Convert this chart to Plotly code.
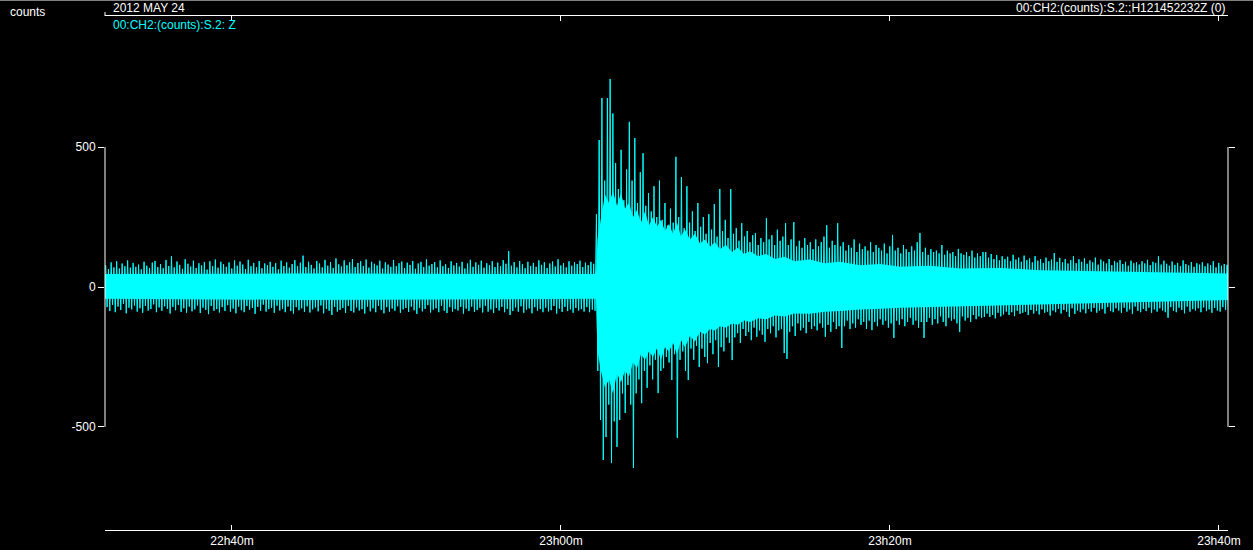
import plotly.graph_objects as go

# ---------------- data ----------------
# time axis in minutes after 22h00m
x_start_min = 32.28
x_end_min = 100.55
tick_vals = [40, 60, 80, 100]
tick_text = ["22h40m", "23h00m", "23h20m", "23h40m"]
y_tick_vals = [-500, 0, 500]
y_tick_text = ["-500", "0", "500"]

# peak (max / min) counts in consecutive 10 s windows, starting at x_start_min
bin_seconds = 10.0
peak_hi = [
    # pre-event noise (bins 0-178)
    78, 64, 88, 70, 92, 66, 84, 74, 95, 69,
    86, 72, 80, 63, 90, 76, 68, 87, 93, 71,
    82, 67, 96, 75, 110, 70, 91, 79, 65, 99,
    83, 73, 94, 68, 85, 77, 89, 62, 92, 74,
    98, 69, 90, 81, 72, 88, 66, 95, 76, 91,
    80, 64, 97, 74, 86, 70, 93, 67, 84, 78,
    90, 72, 85, 63, 94, 75, 88, 69, 82, 96,
    74, 87, 112, 71, 90, 79, 66, 93, 84, 70,
    97, 76, 89, 68, 102, 81, 73, 95, 78, 88,
    100, 71, 86, 92, 75, 98, 69, 90, 83, 77,
    94, 66, 88, 80, 72, 96, 74, 85, 91, 68,
    87, 79, 93, 65, 84, 90, 71, 99, 76, 82,
    89, 70, 95, 74, 81, 68, 92, 77, 86, 73,
    90, 66, 84, 97, 72, 88, 79, 94, 69, 85,
    78, 92, 71, 87, 74, 96, 83, 128, 76, 89,
    70, 93, 81, 67, 90, 75, 86, 72, 95, 79,
    88, 68, 84, 91, 73, 99, 77, 85, 70, 92,
    76, 89, 82, 94, 71, 87, 78, 90, 83,
    # event and coda (bins 179-409)
    260, 525, 675, 380, 675, 743, 620, 443, 350, 490,
    310, 420, 590, 380, 532, 300, 410, 478, 290, 335,
    270, 360, 250, 380, 240, 300, 220, 280, 230, 465,
    250, 393, 210, 360, 230, 270, 200, 300, 215, 250,
    190, 260, 205, 296, 180, 350, 200, 240, 175, 350,
    190, 210, 165, 228, 180, 200, 160, 185, 193, 150,
    175, 160, 246, 170, 185, 150, 205, 165, 180, 228,
    150, 170, 232, 145, 165, 140, 175, 150, 160, 135,
    170, 145, 160, 180, 221, 140, 165, 150, 228, 145,
    160, 130, 150, 140, 170, 125, 155, 135, 145, 130,
    160, 125, 150, 140, 130, 155, 120, 145, 186, 130,
    140, 120, 150, 135, 125, 145, 130, 160, 193, 125,
    140, 115, 135, 125, 130, 120, 150, 115, 130, 120,
    125, 110, 136, 120, 115, 125, 110, 130, 105, 120,
    110, 125, 125, 105, 118, 100, 114, 95, 110, 100,
    108, 92, 115, 98, 105, 90, 112, 96, 102, 88,
    110, 94, 100, 86, 105, 92, 98, 121, 90, 104,
    88, 100, 84, 96, 110, 85, 99, 90, 102, 83,
    95, 88, 105, 80, 98, 91, 84, 100, 78, 93,
    87, 96, 82, 90, 76, 94, 85, 88, 80, 92,
    84, 97, 78, 90, 86, 110, 80, 94, 83, 76,
    91, 79, 86, 74, 95, 82, 77, 89, 72, 85,
    80, 88, 74, 84, 78, 92, 70, 86, 76, 82,
    79,
]
peak_lo = [
    # pre-event noise (bins 0-178)
    -72, -86, -64, -90, -70, -82, -60, -94, -74, -80,
    -66, -88, -76, -92, -68, -84, -79, -62, -90, -73,
    -85, -69, -78, -95, -71, -83, -64, -89, -76, -92,
    -70, -87, -80, -66, -93, -74, -82, -97, -68, -85,
    -79, -91, -72, -86, -65, -88, -77, -94, -70, -83,
    -90, -68, -81, -75, -96, -71, -85, -63, -88, -79,
    -74, -92, -67, -84, -78, -90, -70, -86, -95, -72,
    -83, -76, -89, -69, -91, -80, -73, -87, -66, -94,
    -78, -85, -100, -71, -88, -82, -75, -93, -68, -86,
    -91, -73, -84, -79, -95, -70, -87, -76, -90, -67,
    -82, -94, -72, -88, -77, -85, -69, -92, -80, -75,
    -89, -70, -83, -96, -74, -87, -78, -65, -91, -81,
    -76, -90, -68, -85, -93, -72, -88, -79, -84, -71,
    -95, -77, -86, -70, -89, -82, -74, -91, -67, -88,
    -80, -93, -75, -84, -71, -90, -78, -100, -86, -73,
    -88, -69, -92, -81, -76, -94, -72, -85, -79, -90,
    -74, -87, -83, -68, -95, -77, -89, -71, -86, -80,
    -92, -75, -84, -79, -88, -72, -90, -81, -85,
    # event and coda (bins 179-409)
    -300, -475, -618, -536, -420, -629, -480, -571, -475, -380,
    -450, -350, -420, -646, -380, -330, -415, -300, -360, -280,
    -330, -260, -379, -300, -290, -250, -270, -332, -240, -539,
    -260, -230, -300, -332, -220, -260, -210, -286, -220, -250,
    -272, -200, -240, -190, -286, -215, -230, -180, -200, -261,
    -180, -165, -200, -150, -175, -160, -190, -145, -178, -155,
    -170, -196, -150, -165, -140, -180, -155, -150, -236, -257,
    -160, -140, -175, -130, -155, -145, -165, -125, -150, -140,
    -155, -130, -145, -178, -135, -160, -125, -150, -140, -218,
    -140, -120, -150, -130, -145, -115, -135, -125, -150, -120,
    -154, -125, -140, -115, -135, -120, -145, -130, -182, -120,
    -135, -115, -140, -125, -110, -135, -120, -145, -125, -182,
    -125, -110, -135, -115, -130, -105, -125, -140, -110, -120,
    -115, -130, -161, -105, -120, -110, -125, -100, -115, -105,
    -110, -107, -95, -107, -100, -112, -92, -105, -98, -88,
    -100, -90, -104, -85, -96, -92, -88, -100, -82, -95,
    -86, -98, -80, -92, -88, -102, -84, -90, -78, -95,
    -82, -88, -107, -76, -96, -84, -90, -80, -94, -78,
    -88, -75, -92, -84, -79, -95, -72, -86, -90, -76,
    -84, -92, -74, -88, -80, -96, -70, -85, -90, -78,
    -86, -74, -92, -80, -88, -76, -84, -90, -110, -72,
    -85, -90, -74, -82, -94, -70, -88, -79, -84, -76,
    -90, -73, -86, -80, -92, -75, -84, -88, -72, -82,
    -80,
]

# dense (solid) core of the trace, minutes after 22h00m
band_t = [32.28, 44.13, 56.29, 62.128, 62.219, 62.432, 62.675, 62.918, 63.161, 63.404,
          63.647, 63.891, 64.134, 64.377, 64.620, 64.863, 65.106, 65.350, 65.593, 65.836,
          66.079, 66.322, 66.565, 66.809, 67.052, 67.295, 67.538, 67.842, 68.146, 68.450,
          68.754, 69.058, 69.362, 69.666, 70.030, 70.395, 70.760, 71.125, 71.489, 71.976,
          72.462, 73.009, 73.587, 74.195, 75.106, 76.018, 76.960, 78.176, 79.392, 80.608,
          82.432, 84.255, 86.687, 89.119, 92.766, 96.413, 100.55]
band_hi = [46, 48, 46, 46, 170, 240, 330, 300, 340, 290,
           335, 280, 300, 250, 275, 230, 270, 220, 250, 215,
           240, 200, 225, 190, 230, 180, 205, 170, 190, 155,
           170, 145, 160, 135, 150, 125, 140, 118, 128, 110,
           118, 100, 108, 92, 98, 85, 90, 78, 82, 72,
           76, 66, 68, 60, 56, 52, 48]
band_lo = [-42, -46, -44, -42, -230, -300, -360, -330, -380, -310,
           -340, -300, -320, -270, -290, -240, -260, -230, -250, -220,
           -260, -215, -230, -200, -240, -190, -215, -175, -195, -160,
           -170, -150, -155, -140, -145, -130, -135, -120, -125, -112,
           -115, -102, -105, -95, -96, -88, -86, -80, -78, -74,
           -70, -68, -64, -60, -55, -52, -46]

# ---------------- figure ----------------
CYAN = "#00FFFF"
WHITE = "#FFFFFF"
FONT = "Liberation Sans, Arial, sans-serif"

W, H = 1253, 550
ML, MR, MT, MB = 105, 25, 16, 20
PW, PH = W - ML - MR, H - MT - MB

bin_minutes = bin_seconds / 60.0
zx, zy = [], []
for i, (hi, lo) in enumerate(zip(peak_hi, peak_lo)):
    t = x_start_min + i * bin_minutes
    zx += [t + 0.25 * bin_minutes, t + 0.75 * bin_minutes]
    zy += [hi, lo]

fig = go.Figure()
fig.add_trace(go.Scatter(
    x=band_t + band_t[::-1], y=band_hi + band_lo[::-1],
    fill="toself", fillcolor=CYAN, line=dict(width=0, color=CYAN),
    mode="lines", hoverinfo="skip", showlegend=False))
fig.add_trace(go.Scatter(
    x=zx, y=zy, mode="lines", line=dict(color=CYAN, width=1),
    hoverinfo="skip", showlegend=False))


def px_x(p):
    return (p - ML) / PW


def px_y(p):
    return (H - MB - p) / PH


fig.update_layout(
    width=W, height=H,
    margin=dict(l=ML, r=MR, t=MT, b=MB, autoexpand=False),
    paper_bgcolor="#000000", plot_bgcolor="#000000",
    font=dict(family=FONT, size=12, color=WHITE),
    showlegend=False,
    hovermode=False,
    xaxis=dict(
        range=[x_start_min, x_end_min], tickvals=tick_vals, ticktext=tick_text,
        ticks="inside", ticklen=5, tickcolor=WHITE, tickwidth=1,
        showline=True, linecolor=WHITE, linewidth=1, mirror="ticks",
        showgrid=False, zeroline=False, automargin=False,
        tickfont=dict(family=FONT, size=12, color=WHITE),
    ),
    yaxis=dict(
        range=[-868, 968], tickvals=y_tick_vals, ticktext=y_tick_text,
        ticks="outside", ticklen=6, tickcolor=WHITE, tickwidth=1,
        showline=False, mirror="ticks",
        showgrid=False, zeroline=False, automargin=False,
        tickfont=dict(family=FONT, size=12, color=WHITE),
    ),
    shapes=[
        dict(type="line", xref="paper", yref="y", x0=0, x1=0,
             y0=y_tick_vals[0], y1=y_tick_vals[-1], line=dict(color=WHITE, width=1)),
        dict(type="line", xref="paper", yref="y", x0=1, x1=1,
             y0=y_tick_vals[0], y1=y_tick_vals[-1], line=dict(color=WHITE, width=1)),
        dict(type="line", xref="paper", yref="paper", x0=px_x(0), x1=px_x(W),
             y0=px_y(0.5), y1=px_y(0.5), line=dict(color="#808080", width=1)),
        dict(type="line", xref="paper", yref="paper", x0=0, x1=0,
             y0=1, y1=px_y(12), line=dict(color=WHITE, width=1)),
    ],
    annotations=[
        dict(text="counts", xref="paper", yref="paper", x=px_x(8), y=px_y(12),
             xanchor="left", yanchor="middle", showarrow=False,
             font=dict(family=FONT, size=12, color=WHITE)),
        dict(text="2012 MAY 24", xref="paper", yref="paper", x=px_x(111), y=px_y(8),
             xanchor="left", yanchor="middle", showarrow=False,
             font=dict(family=FONT, size=12, color=WHITE)),
        dict(text="00:CH2:(counts):S.2: Z", xref="paper", yref="paper", x=px_x(111), y=px_y(25),
             xanchor="left", yanchor="middle", showarrow=False,
             font=dict(family=FONT, size=12, color=CYAN)),
        dict(text="00:CH2:(counts):S.2:;H121452232Z (0)", xref="paper", yref="paper",
             x=px_x(1227), y=px_y(8),
             xanchor="right", yanchor="middle", showarrow=False,
             font=dict(family=FONT, size=12, color=WHITE)),
    ],
)

fig.write_html(
    "out.html",
    config={"displayModeBar": False, "staticPlot": True},
    post_script="document.body.style.margin='0px';document.body.style.background='#000';",
)
